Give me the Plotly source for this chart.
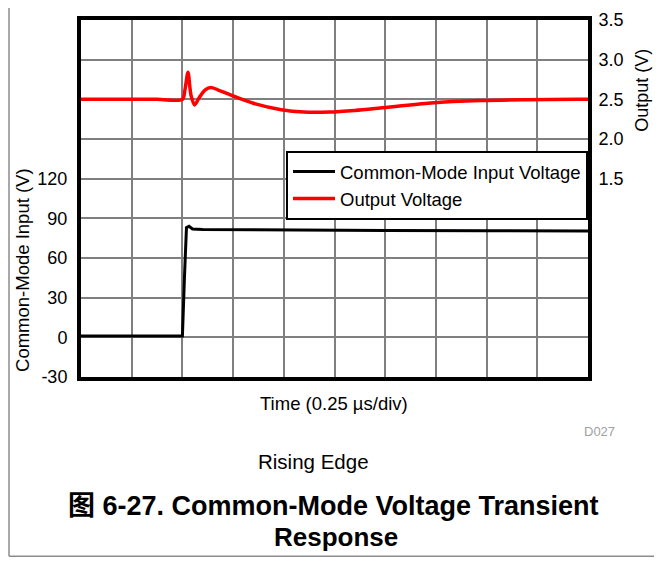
import plotly.graph_objects as go

# time in divisions (0.25 us/div)
cm_time = [0, 2.0, 2.04, 2.08, 2.13, 2.2, 2.4, 4, 6, 8, 10]
cm_volts = [1, 1, 45, 83, 84, 82, 81.5, 81, 80.8, 80.6, 80.4]

out_time = [0, 1.5, 2.0, 2.05, 2.11, 2.17, 2.24, 2.33, 2.45, 2.56, 2.7, 2.97,
            3.4, 3.95, 4.4, 4.9, 5.4, 5.9, 6.9, 7.9, 8.8, 9.8, 10]
out_volts = [2.5, 2.5, 2.5, 2.62, 2.84, 2.55, 2.43, 2.52, 2.62, 2.65, 2.62, 2.55,
             2.45, 2.37, 2.34, 2.34, 2.36, 2.39, 2.455, 2.485, 2.495, 2.5, 2.5]

left_tick_vals = [-30, 0, 30, 60, 90, 120, 150, 180, 210, 240]
left_tick_text = ["-30", "0", "30", "60", "90", "120", "", "", "", ""]
right_tick_vals = [1.5, 2.0, 2.5, 3.0, 3.5]
right_tick_text = ["1.5", "2.0", "2.5", "3.0", "3.5"]

FONT = "Liberation Sans, Arial, Noto Sans CJK SC, sans-serif"

fig = go.Figure()

fig.add_trace(
    go.Scatter(
        x=cm_time,
        y=cm_volts,
        mode="lines",
        name="Common-Mode Input Voltage",
        line=dict(color="#000000", width=3),
        yaxis="y",
    )
)

fig.add_trace(
    go.Scatter(
        x=out_time,
        y=out_volts,
        mode="lines",
        name="Output Voltage",
        line=dict(color="#ff0000", width=3.5, shape="spline", smoothing=0.8),
        yaxis="y2",
    )
)

# page body has an 8px margin, so the figure is kept smaller than the window
fig.update_layout(
    width=654,
    height=549,
    paper_bgcolor="white",
    plot_bgcolor="white",
    font=dict(family=FONT, color="#000000", size=18.5),
    margin=dict(l=73, r=74, t=12, b=180),
    showlegend=True,
    xaxis=dict(
        range=[0, 10],
        dtick=1,
        showticklabels=False,
        showgrid=True,
        gridcolor="#7f7f7f",
        gridwidth=2,
        zeroline=False,
        showline=True,
        linecolor="#000000",
        linewidth=4,
        mirror=True,
        automargin=False,
    ),
    yaxis=dict(
        range=[-30, 240],
        tickvals=left_tick_vals,
        ticktext=left_tick_text,
        showgrid=True,
        gridcolor="#7f7f7f",
        gridwidth=2,
        zeroline=False,
        showline=True,
        linecolor="#000000",
        linewidth=4,
        mirror=True,
        ticks="",
        ticklabelstandoff=6,
        tickfont=dict(size=18),
        automargin=False,
    ),
    yaxis2=dict(
        range=[-1, 3.5],
        overlaying="y",
        side="right",
        tickvals=right_tick_vals,
        ticktext=right_tick_text,
        showgrid=False,
        zeroline=False,
        showline=True,
        linecolor="#000000",
        linewidth=4,
        ticks="",
        ticklabelstandoff=3,
        tickfont=dict(size=18),
        automargin=False,
    ),
    legend=dict(
        x=1.0,
        xanchor="right",
        y=0.44,
        yanchor="bottom",
        bgcolor="white",
        bordercolor="#000000",
        borderwidth=2,
        font=dict(size=18.5),
        itemwidth=42,
        tracegroupgap=0,
    ),
)


def note(text, x, y, size, color="#000000", xanchor="center", angle=0):
    fig.add_annotation(text=text, x=x, y=y, xref="paper", yref="paper",
                       xanchor=xanchor, yanchor="middle", textangle=angle,
                       showarrow=False, font=dict(size=size, color=color))


note("Time (0.25 \u00b5s/div)", 0.499, -0.073, 18.5)
note("D027", 1.057, -0.154, 13, color="#a0a0a0", xanchor="right")
note("Rising Edge", 0.458, -0.238, 20.5)
note("<b>\u56fe 6-27. Common-Mode Voltage Transient</b>", 0.498, -0.361, 27)
note("<b>Response</b>", 0.503, -0.448, 26)
note("Common-Mode Input (V)", -0.115, 0.299, 18.5, angle=-90)
note("Output (V)", 1.106, 0.804, 18, angle=-90)

# page frame: left and bottom edges
fig.add_shape(type="line", xref="paper", yref="paper",
              x0=-0.142, x1=-0.142, y0=-0.502, y1=1.1,
              line=dict(color="#8c8c8c", width=1.5))
fig.add_shape(type="line", xref="paper", yref="paper",
              x0=-0.142, x1=1.2, y0=-0.502, y1=-0.502,
              line=dict(color="#8c8c8c", width=1.5))

fig.write_html("out.html")
